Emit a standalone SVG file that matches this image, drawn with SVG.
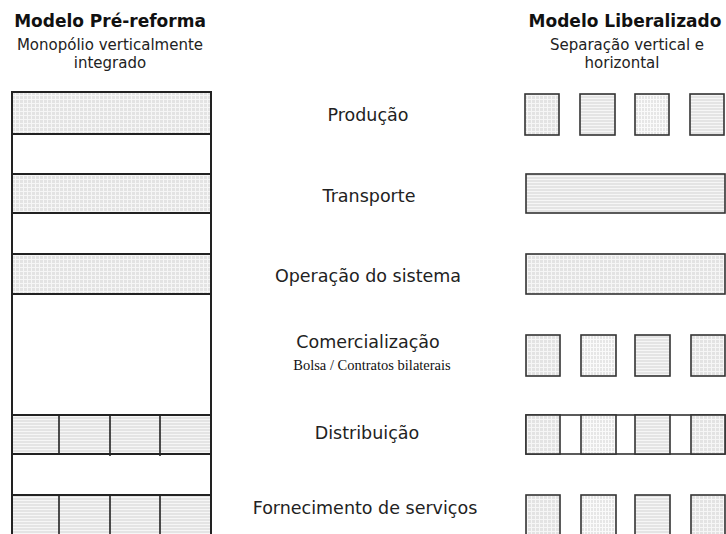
<svg xmlns="http://www.w3.org/2000/svg" width="726" height="534" viewBox="0 0 726 534">
<style>
.h{font-family:"DejaVu Sans",Verdana,sans-serif;font-weight:bold;font-size:17px;fill:#111;text-anchor:middle}
.s{font-family:"DejaVu Sans",Verdana,sans-serif;font-size:15px;fill:#222;text-anchor:middle}
.l{font-family:"DejaVu Sans",Verdana,sans-serif;font-size:17.5px;fill:#222;text-anchor:middle}
.b{font-family:"Liberation Serif","Times New Roman",serif;font-size:14.5px;fill:#111;text-anchor:middle}
.box{stroke:#333;stroke-width:1.6}
.ln{stroke:#222;stroke-width:2;fill:none}
</style>
<defs>
<pattern id="grid" width="4" height="4" patternUnits="userSpaceOnUse">
<rect width="4" height="4" fill="#e3e3e3"/>
<path d="M0 3.5H4M3.5 0V4" stroke="#f6f6f6" stroke-width="1"/>
</pattern>
<pattern id="hl" width="4" height="3" patternUnits="userSpaceOnUse">
<rect width="4" height="3" fill="#e4e4e4"/>
<path d="M0 2.5H4" stroke="#f6f6f6" stroke-width="1"/>
</pattern>
<pattern id="vl" width="3" height="4" patternUnits="userSpaceOnUse">
<rect width="3" height="4" fill="#e6e6e6"/>
<path d="M2.5 0V4M0 3.5H3" stroke="#fafafa" stroke-width="1"/>
</pattern>
</defs>
<rect width="726" height="534" fill="#fff"/>

<g id="header-left">
<text class="h" x="110" y="27">Modelo Pré-reforma</text>
<text class="s" x="110" y="50">Monopólio verticalmente</text>
<text class="s" x="110" y="68">integrado</text>
</g>
<g id="header-right">
<text class="h" x="625" y="27">Modelo Liberalizado</text>
<text class="s" x="627" y="50">Separação vertical e</text>
<text class="s" x="622" y="68">horizontal</text>
</g>

<g id="pre-reforma">
<rect x="12" y="92" width="199" height="42" fill="url(#grid)"/>
<rect x="12" y="174" width="199" height="39" fill="url(#grid)"/>
<rect x="12" y="254" width="199" height="40" fill="url(#grid)"/>
<rect x="12" y="415" width="199" height="39" fill="url(#hl)"/>
<rect x="12" y="495" width="199" height="40" fill="url(#hl)"/>
<path class="ln" d="M12 92H211M12 134H211M12 174H211M12 213H211M12 254H211M12 294H211M12 415H211M12 454H211M12 495H211"/>
<path class="ln" d="M12 91V534M211 91V534"/>
<path d="M59 414V454M110 415V456M160 415V456M59 495V534M110 495V534M160 495V534" stroke="#222" stroke-width="1.6"/>
</g>

<g id="producao">
<text class="l" x="368" y="121">Produção</text>
<rect class="box" x="525" y="94" width="34" height="41" fill="url(#grid)"/>
<rect class="box" x="580" y="94" width="35" height="41" fill="url(#hl)"/>
<rect class="box" x="635" y="94" width="34" height="41" fill="url(#vl)"/>
<rect class="box" x="690" y="94" width="34" height="41" fill="url(#hl)"/>
</g>

<g id="transporte">
<text class="l" x="369" y="202">Transporte</text>
<rect class="box" x="526" y="174" width="199" height="39" fill="url(#hl)"/>
</g>

<g id="operacao">
<text class="l" x="368" y="282">Operação do sistema</text>
<rect class="box" x="526" y="254" width="199" height="40" fill="url(#grid)"/>
</g>

<g id="comercializacao">
<text class="l" x="368" y="348">Comercialização</text>
<text class="b" x="372" y="370">Bolsa / Contratos bilaterais</text>
<rect class="box" x="526" y="335" width="34" height="41" fill="url(#grid)"/>
<rect class="box" x="581" y="335" width="35" height="41" fill="url(#vl)"/>
<rect class="box" x="635" y="335" width="35" height="41" fill="url(#hl)"/>
<rect class="box" x="691" y="335" width="34" height="41" fill="url(#grid)"/>
</g>

<g id="distribuicao">
<text class="l" x="367" y="439">Distribuição</text>
<rect class="box" x="526" y="415" width="199" height="39" fill="#fff"/>
<rect class="box" x="526" y="415" width="34" height="39" fill="url(#grid)"/>
<rect class="box" x="581" y="415" width="35" height="39" fill="url(#vl)"/>
<rect class="box" x="635" y="415" width="35" height="39" fill="url(#hl)"/>
<rect class="box" x="691" y="415" width="34" height="39" fill="url(#grid)"/>
</g>

<g id="fornecimento">
<text class="l" x="365" y="514">Fornecimento de serviços</text>
<rect class="box" x="526" y="495" width="34" height="41" fill="url(#grid)"/>
<rect class="box" x="581" y="495" width="35" height="41" fill="url(#vl)"/>
<rect class="box" x="635" y="495" width="35" height="41" fill="url(#hl)"/>
<rect class="box" x="691" y="495" width="34" height="41" fill="url(#grid)"/>
</g>
</svg>
